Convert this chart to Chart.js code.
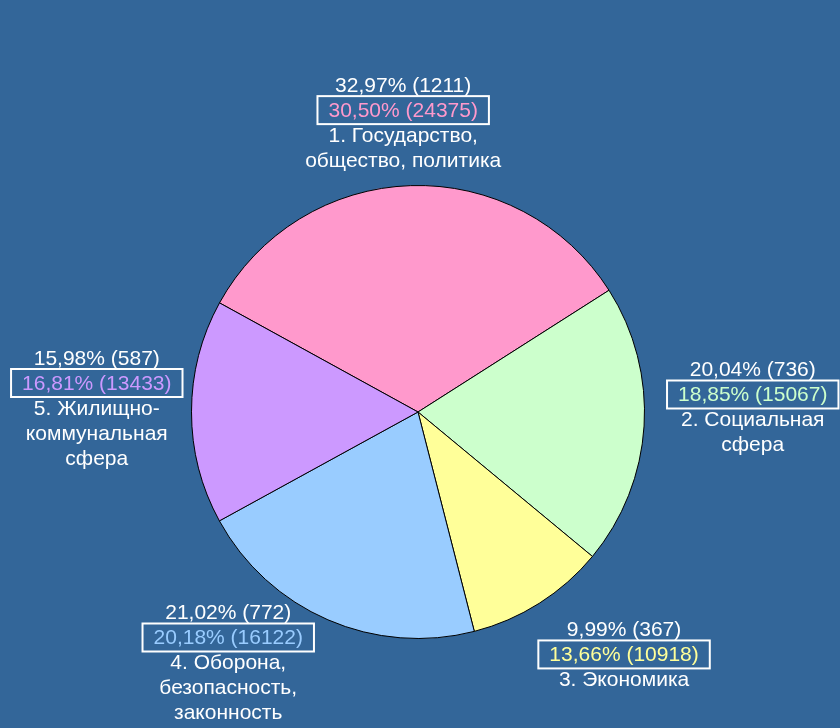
<!DOCTYPE html>
<html>
<head>
<meta charset="utf-8">
<script src="https://cdn.jsdelivr.net/npm/chart.js@4.4.0/dist/chart.umd.min.js"></script>
<style>
	html, body { margin: 0; padding: 0; background: #336699; }
	canvas { display: block; }
</style>
</head>
<body>
<canvas id="pie" width="840" height="728"></canvas>
<script>
const categories = [
	['1. Государство,', 'общество, политика'],
	['2. Социальная', 'сфера'],
	['3. Экономика'],
	['4. Оборона,', 'безопасность,', 'законность'],
	['5. Жилищно-', 'коммунальная', 'сфера']
]
const counts = [1211, 736, 367, 772, 587]
const prevCounts = [24375, 15067, 10918, 16122, 13433]
const prevShares = [30.50, 18.85, 13.66, 20.18, 16.81]
const colors = ['#FF99CC', '#CCFFCC', '#FFFF99', '#99CCFF', '#CC99FF']

const total = counts.reduce((a, b) => a + b, 0)
const fmt = v => v.toFixed(2).replace('.', ',') + '%'

const FONT = '21px "Liberation Sans", Arial, sans-serif'
const LINE = 25
// small hand tweaks of each label block, like dragged labels in the original
const NUDGE = [[-7, 1], [8, -4], [-9, 4], [-8, -4], [6, -3]]

// labels outside each slice: count share, boxed previous share, category name
const outsideLabels = {
	id: 'outsideLabels',
	afterDraw(chart) {
		const ctx = chart.ctx
		const meta = chart.getDatasetMeta(0)
		const W = chart.width, H = chart.height
		ctx.save()
		ctx.font = FONT
		ctx.textBaseline = 'alphabetic'
		ctx.textAlign = 'center'
		meta.data.forEach((arc, i) => {
			const p = arc.getProps(['x', 'y', 'startAngle', 'endAngle', 'outerRadius'], true)
			const mid = (p.startAngle + p.endAngle) / 2
			const dx = Math.cos(mid), dy = Math.sin(mid)
			const gap = 15
			const ax = p.x + dx * (p.outerRadius + gap)
			const ay = p.y + dy * (p.outerRadius + gap)

			const l1 = fmt(counts[i] / total * 100) + ' (' + counts[i] + ')'
			const l2 = fmt(prevShares[i]) + ' (' + prevCounts[i] + ')'
			const names = categories[i]
			const boxW = ctx.measureText(l2).width + 22
			let w = Math.max(boxW, ctx.measureText(l1).width)
			names.forEach(n => { w = Math.max(w, ctx.measureText(n).width) })
			const h = 16 + 2 * LINE + (names.length - 1) * LINE + 5

			let left, top
			if (dx > 0.35) left = ax
			else if (dx < -0.35) left = ax - w
			else left = ax - w / 2
			if (dy > 0.35) top = ay
			else if (dy < -0.35) top = ay - h
			else top = p.y - h / 2
			if (top + h > H) top = H - h
			if (top < 0) top = 0
			if (left < 0) left = 0
			if (left + w > W) left = W - w
			left += NUDGE[i][0]
			top += NUDGE[i][1]

			const cx = left + w / 2
			const b = top + 16
			ctx.fillStyle = '#FFFFFF'
			ctx.fillText(l1, cx, b)
			ctx.strokeStyle = '#FFFFFF'
			ctx.lineWidth = 2
			ctx.strokeRect(cx - boxW / 2, b + 4.5, boxW, 28)
			ctx.fillStyle = colors[i]
			ctx.fillText(l2, cx, b + LINE)
			ctx.fillStyle = '#FFFFFF'
			names.forEach((n, k) => {
				ctx.fillText(n, cx, b + 2 * LINE + k * LINE)
			})
		})
		ctx.restore()
	}
}

new Chart(
	document.getElementById('pie'),
	{
		type: 'pie',
		data: {
			labels: categories.map(c => c.join(' ')),
			datasets: [
				{
					data: counts,
					backgroundColor: colors,
					borderColor: '#000000',
					borderWidth: 1
				}
			]
		},
		options: {
			responsive: false,
			animation: false,
			rotation: -61.2,
			layout: {
				padding: { left: 191, right: 195, top: 185, bottom: 89 }
			},
			plugins: {
				legend: { display: false },
				tooltip: { enabled: false }
			}
		},
		plugins: [outsideLabels]
	}
);
</script>
</body>
</html>
